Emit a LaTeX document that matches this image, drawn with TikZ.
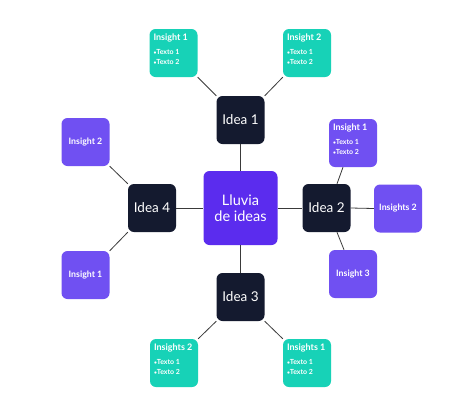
\documentclass[tikz,border=0pt]{standalone}
\usepackage{fontspec}
\setmainfont{Lato}
\usetikzlibrary{calc}
\definecolor{cmain}{HTML}{5B2CEE}
\definecolor{cteal}{HTML}{17D2B7}
\definecolor{cpurp}{HTML}{7050F2}
\definecolor{cdark}{HTML}{141A2F}
\definecolor{cline}{HTML}{3A3A3A}
\tikzset{
  x=1pt,y=-1pt,
  box/.style={rounded corners=6pt, inner sep=0pt, align=center, text=white},
  mainbox/.style={box, fill=cmain, minimum width=74pt, minimum height=74pt, font=\fontsize{14.5}{16.5}\selectfont},
  ideabox/.style={box, fill=cdark, minimum width=48pt, minimum height=48pt, font=\fontsize{13.5}{15}\selectfont},
  tealbox/.style={box, fill=cteal, minimum width=48pt, minimum height=48pt},
  purpbox/.style={box, fill=cpurp, minimum width=48pt, minimum height=48pt, font=\bfseries\fontsize{8.8}{10}\selectfont},
  ttl/.style={anchor=west, inner sep=0pt, text=white, font=\bfseries\fontsize{9}{10}\selectfont},
  itm/.style={anchor=west, inner sep=0pt, text=white, font=\bfseries\fontsize{7}{8}\selectfont},
  conn/.style={draw=cline, line width=0.8pt},
}
\newcommand{\bul}{{\fontsize{5}{6}\selectfont\textbullet}}
\begin{document}
\begin{tikzpicture}
\useasboundingbox[fill=white] (0,0) rectangle (474,400);
% central
\node[mainbox] (c) at (240.5,208) {Lluvia\\de ideas};
% ideas
\node[ideabox] (i1) at (240.5,120) {Idea 1};
\node[ideabox] (i2) at (326.5,208) {Idea 2};
\node[ideabox] (i3) at (240.5,297) {Idea 3};
\node[ideabox] (i4) at (152,208) {Idea 4};
% teal top
\node[tealbox] (t1) at (173.5,53) {};
\node[tealbox] (t2) at (307,53) {};
% teal bottom
\node[tealbox] (b2) at (174,363) {};
\node[tealbox] (b1) at (307,363) {};
% purple left
\node[purpbox] (l2) at (85.5,142) {Insight 2};
\node[purpbox] (l1) at (85.5,275) {Insight 1};
% purple right
\node[purpbox] (r1) at (353,143) {};
\node[purpbox] (r2) at (398,208.5) {Insights 2};
\node[purpbox] (r3) at (353,274) {Insight 3};
% texts in list boxes
\foreach \b/\t in {t1/Insight 1, t2/Insight 2, b2/Insights 2, b1/Insights 1, r1/Insight 1}{
  \node[ttl] (\b-t) at ($(\b.north west)+(4,9.5)$) {\t};
  \node[itm] (\b-a) at ($(\b.north west)+(4,23.5)$) {\bul Texto 1};
  \node[itm] (\b-b) at ($(\b.north west)+(4,33.5)$) {\bul Texto 2};
}
% connectors
\draw[conn] (i1.south) -- (c.north);
\draw[conn] (c.south) -- (i3.north);
\draw[conn] (i4.east) -- (c.west);
\draw[conn] (c.east) -- (i2.west);
\draw[conn] (t1.south east) -- (i1.north west);
\draw[conn] (t2.south west) -- (i1.north east);
\draw[conn] (i3.south west) -- (b2.north east);
\draw[conn] (i3.south east) -- (b1.north west);
\draw[conn] (l2.south east) -- (i4.north west);
\draw[conn] (l1.north east) -- (i4.south west);
\draw[conn] (i2.east) -- (r2.west);
\draw[conn] ($(r1.south)+(-10,0)$) -- ($(i2.north)+(10.5,0)$);
\draw[conn] ($(i2.south)+(10.5,0)$) -- ($(r3.north)+(-9,0)$);
\end{tikzpicture}
\end{document}
